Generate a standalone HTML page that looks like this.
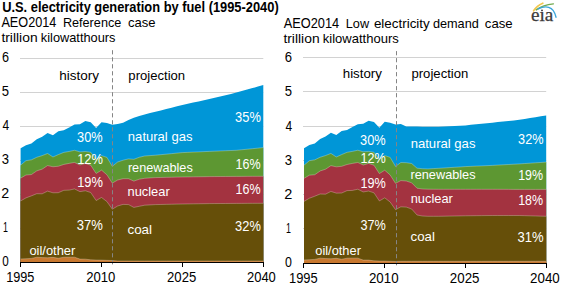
<!DOCTYPE html>
<html><head><meta charset="utf-8"><style>
html,body{margin:0;padding:0;background:#fff;}
body{width:561px;height:287px;overflow:hidden;position:relative;font-family:"Liberation Sans",sans-serif;}
svg{position:absolute;left:0;top:0;}
text{font-family:"Liberation Sans",sans-serif;font-size:13px;fill:#000;}
.w{fill:#fff;}
.b{font-weight:bold;}
.s{font-size:14px;}
</style></head><body>
<svg width="561" height="287" viewBox="0 0 561 287">
<line x1="20" y1="58.5" x2="263.3" y2="58.5" stroke="#d2d2d2" stroke-width="1"/>
<line x1="20" y1="92.5" x2="263.3" y2="92.5" stroke="#d2d2d2" stroke-width="1"/>
<line x1="20" y1="126.5" x2="263.3" y2="126.5" stroke="#d2d2d2" stroke-width="1"/>
<line x1="20" y1="160.5" x2="263.3" y2="160.5" stroke="#d2d2d2" stroke-width="1"/>
<line x1="20" y1="194.5" x2="263.3" y2="194.5" stroke="#d2d2d2" stroke-width="1"/>
<line x1="20" y1="228.5" x2="263.3" y2="228.5" stroke="#d2d2d2" stroke-width="1"/>
<line x1="303" y1="57.5" x2="546.2" y2="57.5" stroke="#d2d2d2" stroke-width="1"/>
<line x1="303" y1="91.5" x2="546.2" y2="91.5" stroke="#d2d2d2" stroke-width="1"/>
<line x1="303" y1="126.5" x2="546.2" y2="126.5" stroke="#d2d2d2" stroke-width="1"/>
<line x1="303" y1="160.5" x2="546.2" y2="160.5" stroke="#d2d2d2" stroke-width="1"/>
<line x1="303" y1="194.5" x2="546.2" y2="194.5" stroke="#d2d2d2" stroke-width="1"/>
<line x1="303" y1="228.5" x2="546.2" y2="228.5" stroke="#d2d2d2" stroke-width="1"/>
<polygon points="20.60,148.32 25.99,145.24 31.39,143.61 36.78,139.27 42.17,136.75 47.57,133.11 52.96,135.33 58.35,131.20 63.75,130.36 69.14,127.40 74.53,124.52 79.93,124.21 85.32,121.09 90.71,122.35 96.11,128.08 101.50,122.16 106.89,123.01 112.29,124.78 117.68,124.00 123.07,122.80 128.47,120.00 133.86,117.80 139.25,116.00 144.65,114.50 150.04,113.00 155.43,111.80 160.83,110.44 166.22,109.08 171.61,107.72 177.01,106.36 182.40,105.00 187.79,103.80 193.19,102.60 198.58,101.40 203.97,100.20 209.37,99.00 214.76,97.72 220.15,96.44 225.55,95.16 230.94,93.88 236.33,92.60 241.73,91.10 247.12,89.60 252.51,88.10 257.91,86.60 263.30,85.10 263.30,262.30 20.60,262.30" fill="#0096d7"/>
<polygon points="20.60,165.13 25.99,160.67 31.39,159.87 36.78,157.28 42.17,155.61 47.57,153.48 52.96,156.99 58.35,154.62 63.75,152.39 69.14,151.47 74.53,150.32 79.93,151.88 85.32,151.48 90.71,152.29 96.11,159.31 101.50,155.64 106.89,157.37 112.29,166.34 117.68,162.00 123.07,160.20 128.47,158.90 133.86,159.30 139.25,157.30 144.65,156.00 150.04,155.60 155.43,155.20 160.83,154.68 166.22,154.16 171.61,153.64 177.01,153.12 182.40,152.60 187.79,152.36 193.19,152.12 198.58,151.88 203.97,151.64 209.37,151.40 214.76,151.18 220.15,150.96 225.55,150.74 230.94,150.52 236.33,150.30 241.73,149.76 247.12,149.22 252.51,148.68 257.91,148.14 263.30,147.60 263.30,262.30 20.60,262.30" fill="#5d9732"/>
<polygon points="20.60,178.18 25.99,175.01 31.39,174.57 36.78,170.86 42.17,169.13 47.57,165.57 52.96,166.75 58.35,166.26 63.75,164.44 69.14,163.38 74.53,162.44 79.93,164.96 85.32,163.44 90.71,165.20 96.11,173.47 101.50,170.13 106.89,174.78 112.29,183.10 117.68,180.00 123.07,178.70 128.47,178.70 133.86,181.10 139.25,179.20 144.65,178.30 150.04,177.90 155.43,177.60 160.83,177.48 166.22,177.36 171.61,177.24 177.01,177.12 182.40,177.00 187.79,176.92 193.19,176.84 198.58,176.76 203.97,176.68 209.37,176.60 214.76,176.56 220.15,176.52 225.55,176.48 230.94,176.44 236.33,176.40 241.73,176.38 247.12,176.36 252.51,176.34 257.91,176.32 263.30,176.30 263.30,262.30 20.60,262.30" fill="#a33340"/>
<polygon points="20.60,201.01 25.99,197.88 31.39,195.88 36.78,193.69 42.17,193.82 47.57,191.13 52.96,192.81 58.35,192.71 63.75,190.33 69.14,190.12 74.53,188.95 79.93,191.64 85.32,190.78 90.71,192.53 96.11,200.55 101.50,197.49 106.89,201.56 112.29,209.18 117.68,206.00 123.07,204.40 128.47,204.60 133.86,207.40 139.25,206.30 144.65,205.20 150.04,204.90 155.43,204.60 160.83,204.48 166.22,204.36 171.61,204.24 177.01,204.12 182.40,204.00 187.79,203.92 193.19,203.84 198.58,203.76 203.97,203.68 209.37,203.60 214.76,203.56 220.15,203.52 225.55,203.48 230.94,203.44 236.33,203.40 241.73,203.38 247.12,203.36 252.51,203.34 257.91,203.32 263.30,203.30 263.30,262.30 20.60,262.30" fill="#664f09"/>
<polygon points="20.60,258.95 25.99,258.74 31.39,258.42 36.78,257.21 42.17,257.59 47.57,257.78 52.96,257.36 58.35,258.24 63.75,257.23 69.14,257.18 74.53,257.19 79.93,259.12 85.32,259.14 90.71,259.85 96.11,260.07 101.50,260.11 106.89,260.33 112.29,260.51 117.68,261.00 123.07,261.00 128.47,261.00 133.86,261.00 139.25,261.00 144.65,261.00 150.04,261.00 155.43,261.00 160.83,261.00 166.22,261.00 171.61,261.00 177.01,261.00 182.40,261.00 187.79,261.00 193.19,261.00 198.58,261.00 203.97,261.00 209.37,261.00 214.76,261.00 220.15,261.00 225.55,261.00 230.94,261.00 236.33,261.00 241.73,261.00 247.12,261.00 252.51,261.00 257.91,261.00 263.30,261.00 263.30,262.30 20.60,262.30" fill="#c8782f"/>
<polyline points="20.60,165.13 25.99,160.67 31.39,159.87 36.78,157.28 42.17,155.61 47.57,153.48 52.96,156.99 58.35,154.62 63.75,152.39 69.14,151.47 74.53,150.32 79.93,151.88 85.32,151.48 90.71,152.29 96.11,159.31 101.50,155.64 106.89,157.37 112.29,166.34 117.68,162.00 123.07,160.20 128.47,158.90 133.86,159.30 139.25,157.30 144.65,156.00 150.04,155.60 155.43,155.20 160.83,154.68 166.22,154.16 171.61,153.64 177.01,153.12 182.40,152.60 187.79,152.36 193.19,152.12 198.58,151.88 203.97,151.64 209.37,151.40 214.76,151.18 220.15,150.96 225.55,150.74 230.94,150.52 236.33,150.30 241.73,149.76 247.12,149.22 252.51,148.68 257.91,148.14 263.30,147.60" fill="none" stroke="#fff" stroke-opacity="0.3" stroke-width="0.9"/>
<polyline points="20.60,178.18 25.99,175.01 31.39,174.57 36.78,170.86 42.17,169.13 47.57,165.57 52.96,166.75 58.35,166.26 63.75,164.44 69.14,163.38 74.53,162.44 79.93,164.96 85.32,163.44 90.71,165.20 96.11,173.47 101.50,170.13 106.89,174.78 112.29,183.10 117.68,180.00 123.07,178.70 128.47,178.70 133.86,181.10 139.25,179.20 144.65,178.30 150.04,177.90 155.43,177.60 160.83,177.48 166.22,177.36 171.61,177.24 177.01,177.12 182.40,177.00 187.79,176.92 193.19,176.84 198.58,176.76 203.97,176.68 209.37,176.60 214.76,176.56 220.15,176.52 225.55,176.48 230.94,176.44 236.33,176.40 241.73,176.38 247.12,176.36 252.51,176.34 257.91,176.32 263.30,176.30" fill="none" stroke="#fff" stroke-opacity="0.3" stroke-width="0.9"/>
<polyline points="20.60,201.01 25.99,197.88 31.39,195.88 36.78,193.69 42.17,193.82 47.57,191.13 52.96,192.81 58.35,192.71 63.75,190.33 69.14,190.12 74.53,188.95 79.93,191.64 85.32,190.78 90.71,192.53 96.11,200.55 101.50,197.49 106.89,201.56 112.29,209.18 117.68,206.00 123.07,204.40 128.47,204.60 133.86,207.40 139.25,206.30 144.65,205.20 150.04,204.90 155.43,204.60 160.83,204.48 166.22,204.36 171.61,204.24 177.01,204.12 182.40,204.00 187.79,203.92 193.19,203.84 198.58,203.76 203.97,203.68 209.37,203.60 214.76,203.56 220.15,203.52 225.55,203.48 230.94,203.44 236.33,203.40 241.73,203.38 247.12,203.36 252.51,203.34 257.91,203.32 263.30,203.30" fill="none" stroke="#fff" stroke-opacity="0.3" stroke-width="0.9"/>
<polyline points="20.60,258.95 25.99,258.74 31.39,258.42 36.78,257.21 42.17,257.59 47.57,257.78 52.96,257.36 58.35,258.24 63.75,257.23 69.14,257.18 74.53,257.19 79.93,259.12 85.32,259.14 90.71,259.85 96.11,260.07 101.50,260.11 106.89,260.33 112.29,260.51 117.68,261.00 123.07,261.00 128.47,261.00 133.86,261.00 139.25,261.00 144.65,261.00 150.04,261.00 155.43,261.00 160.83,261.00 166.22,261.00 171.61,261.00 177.01,261.00 182.40,261.00 187.79,261.00 193.19,261.00 198.58,261.00 203.97,261.00 209.37,261.00 214.76,261.00 220.15,261.00 225.55,261.00 230.94,261.00 236.33,261.00 241.73,261.00 247.12,261.00 252.51,261.00 257.91,261.00 263.30,261.00" fill="none" stroke="#fff" stroke-opacity="0.3" stroke-width="0.9"/>
<polygon points="304.00,148.21 309.38,145.11 314.76,143.46 320.15,139.08 325.53,136.53 330.91,132.85 336.29,135.10 341.68,130.92 347.06,130.08 352.44,127.09 357.82,124.18 363.20,123.87 368.59,120.72 373.97,121.99 379.35,127.78 384.73,121.80 390.12,122.65 395.50,124.44 400.88,124.00 406.26,126.50 411.64,126.40 417.03,126.60 422.41,126.70 427.79,126.80 433.17,126.75 438.56,126.70 443.94,126.44 449.32,126.18 454.70,125.92 460.08,125.66 465.47,125.40 470.85,124.86 476.23,124.32 481.61,123.78 487.00,123.24 492.38,122.70 497.76,122.12 503.14,121.54 508.52,120.96 513.91,120.38 519.29,119.80 524.67,118.92 530.05,118.04 535.44,117.16 540.82,116.28 546.20,115.40 546.20,263.30 304.00,263.30" fill="#0096d7"/>
<polygon points="304.00,165.19 309.38,160.68 314.76,159.87 320.15,157.26 325.53,155.57 330.91,153.43 336.29,156.97 341.68,154.58 347.06,152.32 352.44,151.39 357.82,150.23 363.20,151.81 368.59,151.41 373.97,152.22 379.35,159.31 384.73,155.61 390.12,157.35 395.50,166.41 400.88,162.50 406.26,162.70 411.64,163.50 417.03,168.20 422.41,168.70 427.79,168.90 433.17,168.60 438.56,168.30 443.94,167.96 449.32,167.62 454.70,167.28 460.08,166.94 465.47,166.60 470.85,166.36 476.23,166.12 481.61,165.88 487.00,165.64 492.38,165.40 497.76,165.10 503.14,164.80 508.52,164.50 513.91,164.20 519.29,163.90 524.67,163.54 530.05,163.18 535.44,162.82 540.82,162.46 546.20,162.10 546.20,263.30 304.00,263.30" fill="#5d9732"/>
<polygon points="304.00,178.36 309.38,175.16 314.76,174.72 320.15,170.97 325.53,169.23 330.91,165.63 336.29,166.82 341.68,166.33 347.06,164.49 352.44,163.42 357.82,162.47 363.20,165.01 368.59,163.48 373.97,165.26 379.35,173.60 384.73,170.24 390.12,174.93 395.50,183.33 400.88,180.60 406.26,181.00 411.64,182.80 417.03,188.20 422.41,189.00 427.79,189.20 433.17,189.25 438.56,189.30 443.94,189.30 449.32,189.30 454.70,189.30 460.08,189.30 465.47,189.30 470.85,189.30 476.23,189.30 481.61,189.30 487.00,189.30 492.38,189.30 497.76,189.32 503.14,189.34 508.52,189.36 513.91,189.38 519.29,189.40 524.67,189.40 530.05,189.40 535.44,189.40 540.82,189.40 546.20,189.40 546.20,263.30 304.00,263.30" fill="#a33340"/>
<polygon points="304.00,201.41 309.38,198.26 314.76,196.23 320.15,194.03 325.53,194.16 330.91,191.44 336.29,193.14 341.68,193.03 347.06,190.63 352.44,190.42 357.82,189.24 363.20,191.96 368.59,191.08 373.97,192.85 379.35,200.95 384.73,197.86 390.12,201.97 395.50,209.67 400.88,206.80 406.26,207.10 411.64,209.00 417.03,215.00 422.41,216.00 427.79,216.30 433.17,216.30 438.56,216.30 443.94,216.20 449.32,216.10 454.70,216.00 460.08,215.90 465.47,215.80 470.85,215.74 476.23,215.68 481.61,215.62 487.00,215.56 492.38,215.50 497.76,215.50 503.14,215.50 508.52,215.50 513.91,215.50 519.29,215.50 524.67,215.66 530.05,215.82 535.44,215.98 540.82,216.14 546.20,216.30 546.20,263.30 304.00,263.30" fill="#664f09"/>
<polygon points="304.00,259.93 309.38,259.71 314.76,259.39 320.15,258.16 325.53,258.55 330.91,258.74 336.29,258.31 341.68,259.20 347.06,258.19 352.44,258.13 357.82,258.14 363.20,260.09 368.59,260.11 373.97,260.83 379.35,261.06 384.73,261.09 390.12,261.31 395.50,261.49 400.88,261.30 406.26,261.30 411.64,261.30 417.03,261.30 422.41,261.30 427.79,261.30 433.17,261.30 438.56,261.30 443.94,261.30 449.32,261.30 454.70,261.30 460.08,261.30 465.47,261.30 470.85,261.30 476.23,261.30 481.61,261.30 487.00,261.30 492.38,261.30 497.76,261.30 503.14,261.30 508.52,261.30 513.91,261.30 519.29,261.30 524.67,261.30 530.05,261.30 535.44,261.30 540.82,261.30 546.20,261.30 546.20,263.30 304.00,263.30" fill="#c8782f"/>
<polyline points="304.00,165.19 309.38,160.68 314.76,159.87 320.15,157.26 325.53,155.57 330.91,153.43 336.29,156.97 341.68,154.58 347.06,152.32 352.44,151.39 357.82,150.23 363.20,151.81 368.59,151.41 373.97,152.22 379.35,159.31 384.73,155.61 390.12,157.35 395.50,166.41 400.88,162.50 406.26,162.70 411.64,163.50 417.03,168.20 422.41,168.70 427.79,168.90 433.17,168.60 438.56,168.30 443.94,167.96 449.32,167.62 454.70,167.28 460.08,166.94 465.47,166.60 470.85,166.36 476.23,166.12 481.61,165.88 487.00,165.64 492.38,165.40 497.76,165.10 503.14,164.80 508.52,164.50 513.91,164.20 519.29,163.90 524.67,163.54 530.05,163.18 535.44,162.82 540.82,162.46 546.20,162.10" fill="none" stroke="#fff" stroke-opacity="0.3" stroke-width="0.9"/>
<polyline points="304.00,178.36 309.38,175.16 314.76,174.72 320.15,170.97 325.53,169.23 330.91,165.63 336.29,166.82 341.68,166.33 347.06,164.49 352.44,163.42 357.82,162.47 363.20,165.01 368.59,163.48 373.97,165.26 379.35,173.60 384.73,170.24 390.12,174.93 395.50,183.33 400.88,180.60 406.26,181.00 411.64,182.80 417.03,188.20 422.41,189.00 427.79,189.20 433.17,189.25 438.56,189.30 443.94,189.30 449.32,189.30 454.70,189.30 460.08,189.30 465.47,189.30 470.85,189.30 476.23,189.30 481.61,189.30 487.00,189.30 492.38,189.30 497.76,189.32 503.14,189.34 508.52,189.36 513.91,189.38 519.29,189.40 524.67,189.40 530.05,189.40 535.44,189.40 540.82,189.40 546.20,189.40" fill="none" stroke="#fff" stroke-opacity="0.3" stroke-width="0.9"/>
<polyline points="304.00,201.41 309.38,198.26 314.76,196.23 320.15,194.03 325.53,194.16 330.91,191.44 336.29,193.14 341.68,193.03 347.06,190.63 352.44,190.42 357.82,189.24 363.20,191.96 368.59,191.08 373.97,192.85 379.35,200.95 384.73,197.86 390.12,201.97 395.50,209.67 400.88,206.80 406.26,207.10 411.64,209.00 417.03,215.00 422.41,216.00 427.79,216.30 433.17,216.30 438.56,216.30 443.94,216.20 449.32,216.10 454.70,216.00 460.08,215.90 465.47,215.80 470.85,215.74 476.23,215.68 481.61,215.62 487.00,215.56 492.38,215.50 497.76,215.50 503.14,215.50 508.52,215.50 513.91,215.50 519.29,215.50 524.67,215.66 530.05,215.82 535.44,215.98 540.82,216.14 546.20,216.30" fill="none" stroke="#fff" stroke-opacity="0.3" stroke-width="0.9"/>
<polyline points="304.00,259.93 309.38,259.71 314.76,259.39 320.15,258.16 325.53,258.55 330.91,258.74 336.29,258.31 341.68,259.20 347.06,258.19 352.44,258.13 357.82,258.14 363.20,260.09 368.59,260.11 373.97,260.83 379.35,261.06 384.73,261.09 390.12,261.31 395.50,261.49 400.88,261.30 406.26,261.30 411.64,261.30 417.03,261.30 422.41,261.30 427.79,261.30 433.17,261.30 438.56,261.30 443.94,261.30 449.32,261.30 454.70,261.30 460.08,261.30 465.47,261.30 470.85,261.30 476.23,261.30 481.61,261.30 487.00,261.30 492.38,261.30 497.76,261.30 503.14,261.30 508.52,261.30 513.91,261.30 519.29,261.30 524.67,261.30 530.05,261.30 535.44,261.30 540.82,261.30 546.20,261.30" fill="none" stroke="#fff" stroke-opacity="0.3" stroke-width="0.9"/>
<line x1="112.5" y1="50.2" x2="112.5" y2="264.8" stroke="#858585" stroke-width="1" stroke-dasharray="4.2,2.8"/>
<line x1="396.5" y1="51.1" x2="396.5" y2="265.6" stroke="#858585" stroke-width="1" stroke-dasharray="4.2,2.8"/>
<path d="M20 262.5 H264 M303 263.5 H547" stroke="#000" stroke-width="1"/>
<path d="M20.5 262 V267 M101.5 262 V267 M182.5 262 V267 M263.5 262 V267" stroke="#000" stroke-width="1"/>
<path d="M303.5 263 V268 M384.5 263 V268 M465.5 263 V268 M546.5 263 V268" stroke="#000" stroke-width="1"/>
<text x="2.2" y="12" class="b" style="font-size:14px" textLength="276.5" lengthAdjust="spacingAndGlyphs">U.S. electricity generation by fuel (1995-2040)</text>
<text x="1.4" y="27" class="s" textLength="55.0" lengthAdjust="spacingAndGlyphs">AEO2014</text>
<text x="62.9" y="27" class="s" style="font-size:13.5px" textLength="58.4" lengthAdjust="spacingAndGlyphs">Reference</text>
<text x="128.0" y="27" class="s" style="font-size:13.5px" textLength="27.6" lengthAdjust="spacingAndGlyphs">case</text>
<text x="1.4" y="41.5" class="s" style="font-size:13.5px" textLength="36.2" lengthAdjust="spacingAndGlyphs">trillion</text>
<text x="40.8" y="41.5" class="s" style="font-size:13.5px" textLength="74.7" lengthAdjust="spacingAndGlyphs">kilowatthours</text>
<text x="283.7" y="28.2" class="s" textLength="55.5" lengthAdjust="spacingAndGlyphs">AEO2014</text>
<text x="345.8" y="28.2" class="s" style="font-size:13.5px" textLength="23.3" lengthAdjust="spacingAndGlyphs">Low</text>
<text x="373.9" y="28.2" class="s" style="font-size:13.5px" textLength="55.9" lengthAdjust="spacingAndGlyphs">electricity</text>
<text x="432.9" y="28.2" class="s" style="font-size:13.5px" textLength="45.9" lengthAdjust="spacingAndGlyphs">demand</text>
<text x="484.8" y="28.2" class="s" style="font-size:13.5px" textLength="27.9" lengthAdjust="spacingAndGlyphs">case</text>
<text x="283.4" y="42.5" class="s" style="font-size:13.5px" textLength="36.2" lengthAdjust="spacingAndGlyphs">trillion</text>
<text x="322.8" y="42.5" class="s" style="font-size:13.5px" textLength="76.0" lengthAdjust="spacingAndGlyphs">kilowatthours</text>
<text x="2.00" y="62" class="s" textLength="7.02" lengthAdjust="spacingAndGlyphs">6</text>
<text x="1.77" y="96" class="s" textLength="7.28" lengthAdjust="spacingAndGlyphs">5</text>
<text x="2.40" y="130" class="s" textLength="6.68" lengthAdjust="spacingAndGlyphs">4</text>
<text x="1.77" y="164" class="s" textLength="7.28" lengthAdjust="spacingAndGlyphs">3</text>
<text x="1.38" y="198" class="s" textLength="7.93" lengthAdjust="spacingAndGlyphs">2</text>
<text x="2.97" y="232" class="s" textLength="4.94" lengthAdjust="spacingAndGlyphs">1</text>
<text x="2.37" y="266" class="s" textLength="6.50" lengthAdjust="spacingAndGlyphs">0</text>
<text x="284.77" y="62" class="s" textLength="7.28" lengthAdjust="spacingAndGlyphs">6</text>
<text x="284.77" y="96" class="s" textLength="7.28" lengthAdjust="spacingAndGlyphs">5</text>
<text x="285.40" y="131" class="s" textLength="6.68" lengthAdjust="spacingAndGlyphs">4</text>
<text x="284.77" y="165" class="s" textLength="7.28" lengthAdjust="spacingAndGlyphs">3</text>
<text x="284.37" y="199" class="s" textLength="8.06" lengthAdjust="spacingAndGlyphs">2</text>
<text x="285.97" y="233" class="s" textLength="4.94" lengthAdjust="spacingAndGlyphs">1</text>
<text x="285.12" y="267" class="s" textLength="6.89" lengthAdjust="spacingAndGlyphs">0</text>
<text x="6.19" y="282" class="s" textLength="28.25" lengthAdjust="spacingAndGlyphs">1995</text>
<text x="86.16" y="282" class="s" textLength="29.18" lengthAdjust="spacingAndGlyphs">2010</text>
<text x="167.06" y="282" class="s" textLength="29.18" lengthAdjust="spacingAndGlyphs">2025</text>
<text x="246.97" y="282" class="s" textLength="28.87" lengthAdjust="spacingAndGlyphs">2040</text>
<text x="288.98" y="283" class="s" textLength="28.66" lengthAdjust="spacingAndGlyphs">1995</text>
<text x="368.95" y="283" class="s" textLength="29.60" lengthAdjust="spacingAndGlyphs">2010</text>
<text x="449.85" y="283" class="s" textLength="29.60" lengthAdjust="spacingAndGlyphs">2025</text>
<text x="530.05" y="283" class="s" textLength="29.70" lengthAdjust="spacingAndGlyphs">2040</text>
<text x="59.33" y="80" class="s" style="font-size:13.5px" textLength="39.79" lengthAdjust="spacingAndGlyphs">history</text>
<text x="128.36" y="80" class="s" style="font-size:13.5px" textLength="56.79" lengthAdjust="spacingAndGlyphs">projection</text>
<text x="342.75" y="78" class="s" style="font-size:13.5px" textLength="39.17" lengthAdjust="spacingAndGlyphs">history</text>
<text x="411.46" y="78" class="s" style="font-size:13.5px" textLength="56.90" lengthAdjust="spacingAndGlyphs">projection</text>
<text x="77.09" y="142" class="s w" textLength="25.55" lengthAdjust="spacingAndGlyphs">30%</text>
<text x="77.18" y="164" class="s w" textLength="25.77" lengthAdjust="spacingAndGlyphs">12%</text>
<text x="77.18" y="187" class="s w" textLength="25.77" lengthAdjust="spacingAndGlyphs">19%</text>
<text x="76.67" y="230" class="s w" textLength="26.09" lengthAdjust="spacingAndGlyphs">37%</text>
<text x="29.38" y="255" class="s w" style="font-size:13.5px" textLength="45.95" lengthAdjust="spacingAndGlyphs">oil/other</text>
<text x="127.87" y="141" class="s w" style="font-size:13.5px" textLength="64.59" lengthAdjust="spacingAndGlyphs">natural gas</text>
<text x="127.89" y="172" class="s w" style="font-size:13.5px" textLength="64.86" lengthAdjust="spacingAndGlyphs">renewables</text>
<text x="127.48" y="196" class="s w" style="font-size:13.5px" textLength="42.25" lengthAdjust="spacingAndGlyphs">nuclear</text>
<text x="127.44" y="234" class="s w" style="font-size:13.5px" textLength="24.62" lengthAdjust="spacingAndGlyphs">coal</text>
<text x="235.08" y="122" class="s w" textLength="25.77" lengthAdjust="spacingAndGlyphs">35%</text>
<text x="235.51" y="169" class="s w" textLength="25.01" lengthAdjust="spacingAndGlyphs">16%</text>
<text x="235.51" y="194" class="s w" textLength="25.01" lengthAdjust="spacingAndGlyphs">16%</text>
<text x="235.08" y="231" class="s w" textLength="25.77" lengthAdjust="spacingAndGlyphs">32%</text>
<text x="360.09" y="145" class="s w" textLength="25.55" lengthAdjust="spacingAndGlyphs">30%</text>
<text x="360.50" y="163" class="s w" textLength="25.34" lengthAdjust="spacingAndGlyphs">12%</text>
<text x="360.50" y="188" class="s w" textLength="25.34" lengthAdjust="spacingAndGlyphs">19%</text>
<text x="360.50" y="230" class="s w" textLength="25.34" lengthAdjust="spacingAndGlyphs">37%</text>
<text x="315.28" y="255" class="s w" style="font-size:13.5px" textLength="45.64" lengthAdjust="spacingAndGlyphs">oil/other</text>
<text x="410.66" y="148" class="s w" style="font-size:13.5px" textLength="64.80" lengthAdjust="spacingAndGlyphs">natural gas</text>
<text x="410.49" y="179" class="s w" style="font-size:13.5px" textLength="65.06" lengthAdjust="spacingAndGlyphs">renewables</text>
<text x="410.68" y="203" class="s w" style="font-size:13.5px" textLength="42.15" lengthAdjust="spacingAndGlyphs">nuclear</text>
<text x="410.55" y="241" class="s w" style="font-size:13.5px" textLength="24.30" lengthAdjust="spacingAndGlyphs">coal</text>
<text x="518.09" y="144" class="s w" textLength="25.44" lengthAdjust="spacingAndGlyphs">32%</text>
<text x="518.21" y="180" class="s w" textLength="24.90" lengthAdjust="spacingAndGlyphs">19%</text>
<text x="518.21" y="205" class="s w" textLength="24.90" lengthAdjust="spacingAndGlyphs">18%</text>
<text x="517.47" y="242" class="s w" textLength="26.09" lengthAdjust="spacingAndGlyphs">31%</text>
<g id="eia">
<path d="M533.6 10.8 Q536.8 5.6 542.8 3.2" stroke="#f3c64c" stroke-width="1.7" fill="none" stroke-linecap="round"/>
<path d="M536.2 9.9 Q543 4.9 553.4 3.9" stroke="#74ab52" stroke-width="1.4" fill="none" stroke-linecap="round"/>
<path d="M538.2 8.9 C545 5.6 553.5 5.2 556 17.2" stroke="#3ba6dc" stroke-width="1.4" fill="none" stroke-linecap="round"/>
<text x="530.9" y="21.3" textLength="22.4" lengthAdjust="spacingAndGlyphs" style="font-family:'Liberation Serif',serif;font-size:18px;fill:#3c3c3c;stroke:#3c3c3c;stroke-width:0.25">eıa</text>
<circle cx="542" cy="10.4" r="0.95" fill="#3c3c3c"/>
</g>
</svg>
</body></html>
